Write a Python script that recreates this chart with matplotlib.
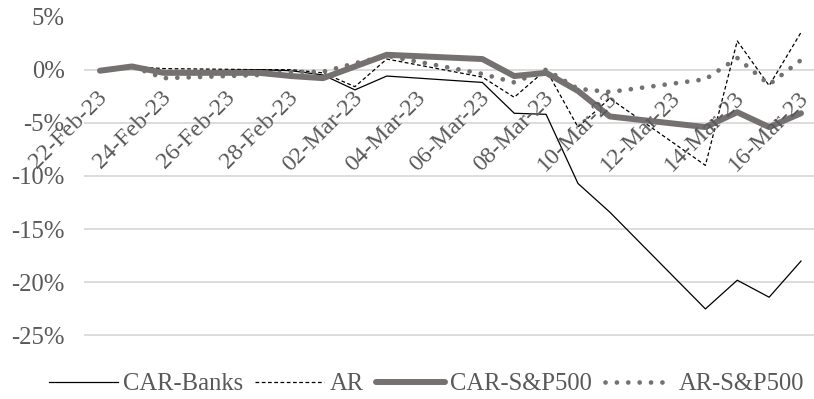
import matplotlib
matplotlib.use("Agg")
import matplotlib.pyplot as plt
import matplotlib.dates as mdates
import matplotlib.transforms as mtransforms
from datetime import datetime, timedelta

# trading days shown in the chart
dates = ["22-Feb-23", "23-Feb-23", "24-Feb-23", "27-Feb-23", "28-Feb-23",
         "01-Mar-23", "02-Mar-23", "03-Mar-23", "06-Mar-23", "07-Mar-23",
         "08-Mar-23", "09-Mar-23", "10-Mar-23", "13-Mar-23", "14-Mar-23",
         "15-Mar-23", "16-Mar-23"]

# values in %
car_banks = [-0.1, 0.3, -0.2, 0.0, -0.1, -0.5, -1.9, -0.6, -1.2, -4.1,
             -4.2, -10.7, -13.4, -22.5, -19.8, -21.4, -18.0]
ar = [-0.1, 0.3, 0.1, 0.0, 0.0, -0.3, -1.6, 1.0, -0.7, -2.6,
      0.0, -5.4, -2.7, -9.0, 2.7, -1.5, 3.5]
car_sp500 = [-0.1, 0.3, -0.3, -0.3, -0.6, -0.8, 0.3, 1.4, 1.0, -0.6,
             -0.3, -2.0, -4.4, -5.4, -4.0, -5.4, -4.1]
ar_sp500 = [-0.1, 0.3, -0.8, -0.5, -0.2, -0.2, 0.6, 1.3, -0.4, -1.2,
            0.0, -1.8, -2.1, -0.9, 1.1, -1.4, 0.9]

yticks = [5, 0, -5, -10, -15, -20, -25]

TXT = "#595959"
GRID = "#d9d9d9"
GRAY = "#767171"
FONT = "Liberation Serif"

x = [datetime.strptime(d, "%d-%b-%y") for d in dates]
xn = mdates.date2num(x)

fig = plt.figure(figsize=(8.14, 3.99), dpi=100)
# axes box in pixels: left 84, right 814, top 16.5, bottom 335.5
ax = fig.add_axes([84 / 814, (399 - 335.5) / 399, (814 - 84) / 814, 319 / 399])

ax.plot(xn, car_banks, color="black", lw=0.9, label="CAR-Banks")
ax.plot(xn, ar, color="black", lw=0.9, dashes=(3, 2), label="AR")
ax.plot(xn, car_sp500, color=GRAY, lw=4.3, solid_capstyle="round",
        solid_joinstyle="round", label="CAR-S&P500")
ax.plot(xn, ar_sp500, color=GRAY, lw=3.4, dashes=(0.01, 2.4),
        dash_capstyle="round", label="AR-S&P500")

day_px = (801 - 100) / 22
ax.set_xlim(xn[0] - 16 / day_px, xn[0] + (814 - 100) / day_px)
ax.set_ylim(-25, 5)
ax.set_yticks(yticks)
ax.set_yticklabels([f"{v}%" for v in yticks], fontfamily=FONT, fontsize=17.7, color=TXT)
ax.tick_params(axis="y", length=0, pad=14)
ax.set_xticks([])
ax.grid(axis="y", color=GRID, lw=1.3)
ax.set_axisbelow(True)
for s in ax.spines.values():
    s.set_visible(False)

# date labels every two days, hanging from the 0% line
offset = mtransforms.ScaledTranslation(-3.4 / 100, -17.8 / 100, fig.dpi_scale_trans)
d = x[0]
while d <= x[-1]:
    ax.text(mdates.date2num(d), 0, d.strftime("%d-%b-%y"), transform=ax.transData + offset,
            rotation=45, rotation_mode="anchor", ha="right", va="top",
            fontfamily=FONT, fontsize=17.3, color=TXT)
    d += timedelta(days=2)

leg = fig.legend(loc="center", bbox_to_anchor=(0.524, 0.037), ncol=4, frameon=False,
                 prop={"family": FONT, "size": 17.7}, handlelength=2.8,
                 handletextpad=0.22, columnspacing=0.5)
for t in leg.get_texts():
    t.set_color(TXT)

fig.savefig("out.png", dpi=100)
